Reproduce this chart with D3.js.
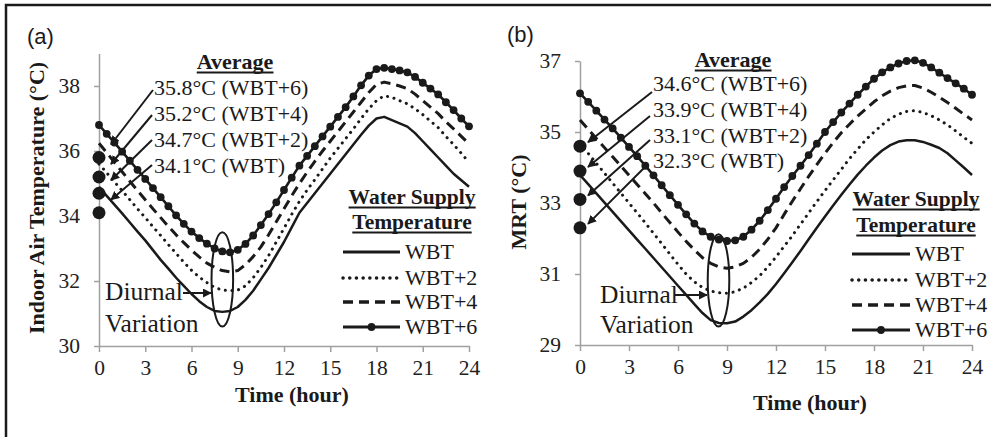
<!DOCTYPE html>
<html><head><meta charset="utf-8">
<script src="https://cdn.jsdelivr.net/npm/d3@7"></script>
<style>body{margin:0;background:#fff}svg{display:block}</style>
</head><body>
<svg id="c" width="1000" height="437"></svg>
<script>
// ---------- DATA ----------
const hours = [0,0.5,1,1.5,2,2.5,3,3.5,4,4.5,5,5.5,6,6.5,7,7.5,8,8.5,9,9.5,10,10.5,11,11.5,12,12.5,13,13.5,14,14.5,15,15.5,16,16.5,17,17.5,18,18.5,19,19.5,20,20.5,21,21.5,22,22.5,23,23.5,24];
const xTicks = [0,3,6,9,12,15,18,21,24];
const seriesNames = ["WBT","WBT+2","WBT+4","WBT+6"];

// (a) Indoor air temperature (°C)
const airWBT  = [34.90,34.62,34.35,34.08,33.80,33.52,33.25,32.95,32.65,32.38,32.10,31.85,31.60,31.38,31.20,31.08,31.05,31.08,31.20,31.42,31.70,32.05,32.40,32.80,33.20,33.65,34.10,34.40,34.70,35.00,35.30,35.60,35.90,36.20,36.50,36.78,37.00,37.05,36.95,36.85,36.75,36.55,36.30,36.05,35.80,35.55,35.30,35.10,34.90];
const airWBT2 = [35.60,35.33,35.05,34.78,34.50,34.22,33.95,33.67,33.40,33.12,32.85,32.58,32.33,32.12,31.95,31.80,31.72,31.70,31.72,31.85,32.10,32.42,32.78,33.20,33.62,34.05,34.45,34.80,35.12,35.45,35.78,36.08,36.38,36.68,37.00,37.30,37.55,37.70,37.65,37.55,37.45,37.30,37.12,36.92,36.72,36.45,36.20,35.93,35.65];
const airWBT4 = [36.24,35.95,35.65,35.36,35.07,34.78,34.50,34.22,33.95,33.68,33.42,33.18,32.95,32.74,32.55,32.42,32.32,32.28,32.32,32.50,32.75,33.05,33.42,33.82,34.22,34.62,35.00,35.35,35.68,36.00,36.30,36.60,36.90,37.20,37.50,37.80,38.05,38.12,38.07,38.00,37.92,37.75,37.55,37.35,37.15,36.90,36.68,36.45,36.22];
const airWBT6 = [36.80,36.53,36.26,35.98,35.70,35.42,35.14,34.86,34.58,34.30,34.02,33.76,33.52,33.32,33.15,33.00,32.91,32.88,32.96,33.14,33.40,33.72,34.06,34.42,34.80,35.18,35.55,35.85,36.15,36.45,36.75,37.05,37.35,37.68,38.02,38.32,38.52,38.56,38.52,38.48,38.42,38.28,38.10,37.92,37.74,37.50,37.26,37.00,36.76];
const airTicks = [30,32,34,36,38];
const airAvg = [34.1,34.7,35.2,35.8];
const airAvgLabels = ["34.1°C (WBT)","34.7°C (WBT+2)","35.2°C (WBT+4)","35.8°C (WBT+6)"];

// (b) Mean radiant temperature (°C)
const mrtWBT  = [33.79,33.53,33.27,33.01,32.75,32.49,32.23,31.97,31.71,31.45,31.19,30.93,30.67,30.41,30.15,29.90,29.70,29.62,29.61,29.66,29.80,29.98,30.20,30.44,30.72,31.02,31.33,31.65,31.98,32.30,32.62,32.93,33.23,33.52,33.80,34.05,34.28,34.48,34.63,34.73,34.77,34.77,34.72,34.64,34.55,34.40,34.20,34.00,33.79];
const mrtWBT2 = [34.68,34.40,34.12,33.84,33.56,33.28,33.00,32.72,32.44,32.15,31.86,31.56,31.27,31.00,30.78,30.62,30.52,30.47,30.46,30.50,30.60,30.76,30.95,31.20,31.48,31.78,32.08,32.40,32.72,33.04,33.35,33.65,33.95,34.25,34.52,34.78,35.00,35.20,35.38,35.50,35.58,35.60,35.55,35.46,35.34,35.20,35.03,34.85,34.68];
const mrtWBT4 = [35.34,35.08,34.82,34.56,34.30,34.04,33.78,33.52,33.26,33.00,32.72,32.45,32.18,31.92,31.68,31.46,31.30,31.20,31.16,31.20,31.30,31.47,31.70,31.98,32.30,32.68,33.05,33.40,33.75,34.08,34.40,34.70,34.98,35.22,35.45,35.65,35.85,36.02,36.15,36.25,36.30,36.31,36.24,36.12,35.98,35.83,35.67,35.50,35.34];
const mrtWBT6 = [36.09,35.85,35.60,35.35,35.10,34.84,34.58,34.32,34.05,33.78,33.50,33.22,32.95,32.68,32.42,32.20,32.05,31.97,31.93,31.95,32.05,32.25,32.50,32.80,33.12,33.45,33.76,34.05,34.35,34.67,35.00,35.28,35.55,35.80,36.05,36.28,36.50,36.68,36.82,36.93,37.00,37.02,36.95,36.82,36.67,36.52,36.37,36.22,36.05];
const mrtTicks = [29,31,33,35,37];
const mrtAvg = [32.3,33.1,33.9,34.6];
const mrtAvgLabels = ["32.3°C (WBT)","33.1°C (WBT+2)","33.9°C (WBT+4)","34.6°C (WBT+6)"];

// ---------- DRAW ----------
const SERIF = "'Liberation Serif','Times New Roman',Times,serif";
const SANS = "'Liberation Sans',Arial,sans-serif";
const INK = "#1a1a1a";
const AXIS = "#a0a0a0";
const svg = d3.select("#c");

svg.append("defs").append("marker")
  .attr("id","arr").attr("viewBox","0 0 10 10").attr("refX",9).attr("refY",5)
  .attr("markerWidth",9).attr("markerHeight",9).attr("markerUnits","userSpaceOnUse")
  .attr("orient","auto")
  .append("path").attr("d","M0,0 L10,5 L0,10 Z").attr("fill",INK);

svg.append("path").attr("d","M6,437 L6,5 L991,5").attr("fill","none").attr("stroke",INK).attr("stroke-width",2.5);

const styles = [
  {w:2.5, dash:null, cap:"butt"},
  {w:3, dash:"0.1,6.6", cap:"round"},
  {w:3, dash:"10,6", cap:"butt"},
  {w:2.6, dash:null, cap:"butt", marker:true}
];

function txt(g,x,y,s,o={}){
  return g.append("text").attr("x",x).attr("y",y).text(s)
    .style("font-family",o.ff||SERIF).style("font-size",(o.fs||22)+"px")
    .style("font-weight",o.fw||"400").attr("text-anchor",o.anchor||"start")
    .attr("fill",INK);
}
function underline(t){
  const b=t.node().getBBox();
  const y=+t.attr("y")+3.5;
  d3.select(t.node().parentNode).append("line")
    .attr("x1",b.x).attr("x2",b.x+b.width).attr("y1",y).attr("y2",y)
    .attr("stroke",INK).attr("stroke-width",2);
}

function panel(cfg){
  const g = svg.append("g");
  const x = d3.scaleLinear().domain([0,24]).range(cfg.xRange);
  const y = d3.scaleLinear().domain(cfg.yDom).range(cfg.yRange);

  const xa = g.append("g").attr("transform",`translate(0,${cfg.yRange[0]})`)
    .call(d3.axisBottom(x).tickValues(xTicks).tickSize(6).tickSizeOuter(0).tickPadding(8));
  const ya = g.append("g").attr("transform",`translate(${cfg.xRange[0]},0)`)
    .call(d3.axisLeft(y).tickValues(cfg.yTicks).tickSize(5).tickSizeOuter(0).tickPadding(14));
  [xa,ya].forEach(a=>{
    a.attr("font-family",null).attr("font-size",null);
    a.select(".domain").attr("stroke",AXIS).attr("stroke-width",1.5);
    a.selectAll(".tick line").attr("stroke",AXIS).attr("stroke-width",1.5);
    a.selectAll(".tick text").style("font-family",SERIF).style("font-size","21.5px").attr("fill","#222");
  });

  const line = d3.line().x((d,i)=>x(hours[i])).y(d=>y(d));
  cfg.series.forEach((s,k)=>{
    const st=styles[k];
    const p=g.append("path").datum(s).attr("d",line).attr("fill","none")
      .attr("stroke",INK).attr("stroke-width",st.w).attr("stroke-linecap",st.cap)
      .attr("stroke-linejoin","round");
    if(st.dash) p.attr("stroke-dasharray",st.dash);
    if(st.marker){
      g.selectAll(null).data(s).join("circle")
        .attr("cx",(d,i)=>x(hours[i])).attr("cy",d=>y(d)).attr("r",3.9).attr("fill",INK);
    }
  });

  g.selectAll(null).data(cfg.avgs).join("circle")
    .attr("cx",x(0)).attr("cy",d=>y(d)).attr("r",6.5).attr("fill",INK);

  underline(txt(g,cfg.avgTitle[0],cfg.avgTitle[1],"Average",{fw:"700",anchor:"middle"}));
  [3,2,1,0].forEach((k,row)=>{
    txt(g,cfg.labelX,cfg.labelBase[row],cfg.avgLabels[k]);
    const st=cfg.arrowStarts[row];
    g.append("line").attr("x1",st[0]).attr("y1",st[1])
      .attr("x2",x(0)+cfg.tipOff[0]).attr("y2",y(cfg.avgs[k])+cfg.tipOff[1])
      .attr("stroke",INK).attr("stroke-width",2).attr("marker-end","url(#arr)");
  });

  const e=cfg.ellipse;
  g.append("ellipse").attr("cx",x(e.h)).attr("cy",y(e.v))
    .attr("rx",x(e.h+e.rh)-x(e.h)).attr("ry",y(e.v-e.rv)-y(e.v))
    .attr("fill","none").attr("stroke",INK).attr("stroke-width",2);
  const d=cfg.diurnal;
  txt(g,d.x,d.y1,"Diurnal",{fs:25.5});
  txt(g,d.x,d.y2,"Variation",{fs:25.5});
  g.append("line").attr("x1",d.arrow[0][0]).attr("y1",d.arrow[0][1])
    .attr("x2",d.arrow[1][0]).attr("y2",d.arrow[1][1])
    .attr("stroke",INK).attr("stroke-width",2).attr("marker-end","url(#arr)");

  const L=cfg.legend;
  underline(txt(g,L.title[0],L.title[1],"Water Supply",{fw:"700",anchor:"middle",fs:21.5}));
  underline(txt(g,L.title[0],L.title[2],"Temperature",{fw:"700",anchor:"middle",fs:21.5}));
  seriesNames.forEach((n,k)=>{
    const st=styles[k], yy=L.ys[k];
    const ln=g.append("line").attr("x1",L.lineX[0]).attr("x2",L.lineX[1]).attr("y1",yy).attr("y2",yy)
      .attr("stroke",INK).attr("stroke-width",st.w+0.5).attr("stroke-linecap",st.cap);
    if(st.dash) ln.attr("stroke-dasharray",st.dash);
    if(st.marker) g.append("circle").attr("cx",(L.lineX[0]+L.lineX[1])/2).attr("cy",yy).attr("r",3.9).attr("fill",INK);
    txt(g,L.textX,yy+7,n);
  });

  txt(g,cfg.letterPos[0],cfg.letterPos[1],cfg.letter,{ff:SANS,fs:22});
  txt(g,cfg.xTitlePos[0],cfg.xTitlePos[1],"Time (hour)",{fw:"700",anchor:"middle"});
  txt(g,0,0,cfg.yTitle,{fw:"700",anchor:"middle"})
    .attr("transform",`translate(${cfg.yTitlePos[0]},${cfg.yTitlePos[1]}) rotate(-90)`);
}

panel({
  letter:"(a)", letterPos:[27,44],
  xRange:[99,469], yRange:[346,53.5], yDom:[30,39], yTicks:airTicks,
  series:[airWBT,airWBT2,airWBT4,airWBT6],
  avgs:airAvg, avgLabels:airAvgLabels,
  yTitle:"Indoor Air Temperature (°C)", yTitlePos:[44,198],
  xTitlePos:[292,402],
  avgTitle:[235,69],
  labelX:154, labelBase:[95,121,147,173],
  arrowStarts:[[153,90],[152,115],[152,140],[152,165]], tipOff:[12,-13],
  ellipse:{h:8.0,v:32.05,rh:0.7,rv:1.45},
  diurnal:{x:105,y1:300,y2:332,arrow:[[183,293],[211,293]]},
  legend:{title:[412,204,229],lineX:[343,400],textX:405,ys:[252,278,302,327]}
});
panel({
  letter:"(b)", letterPos:[507,42],
  xRange:[580,972], yRange:[345,61], yDom:[29,37], yTicks:mrtTicks,
  series:[mrtWBT,mrtWBT2,mrtWBT4,mrtWBT6],
  avgs:mrtAvg, avgLabels:mrtAvgLabels,
  yTitle:"MRT (°C)", yTitlePos:[526,202],
  xTitlePos:[810,410],
  avgTitle:[733,67],
  labelX:653, labelBase:[91,117,143,168],
  arrowStarts:[[652,92],[650,116],[650,140],[648,164]], tipOff:[8,-4],
  ellipse:{h:8.48,v:30.82,rh:0.66,rv:1.3},
  diurnal:{x:600,y1:303,y2:333,arrow:[[675,295],[707,295]]},
  legend:{title:[916,206,232],lineX:[852,910],textX:915,ys:[254,280,305,330]}
});
</script>
</body></html>
